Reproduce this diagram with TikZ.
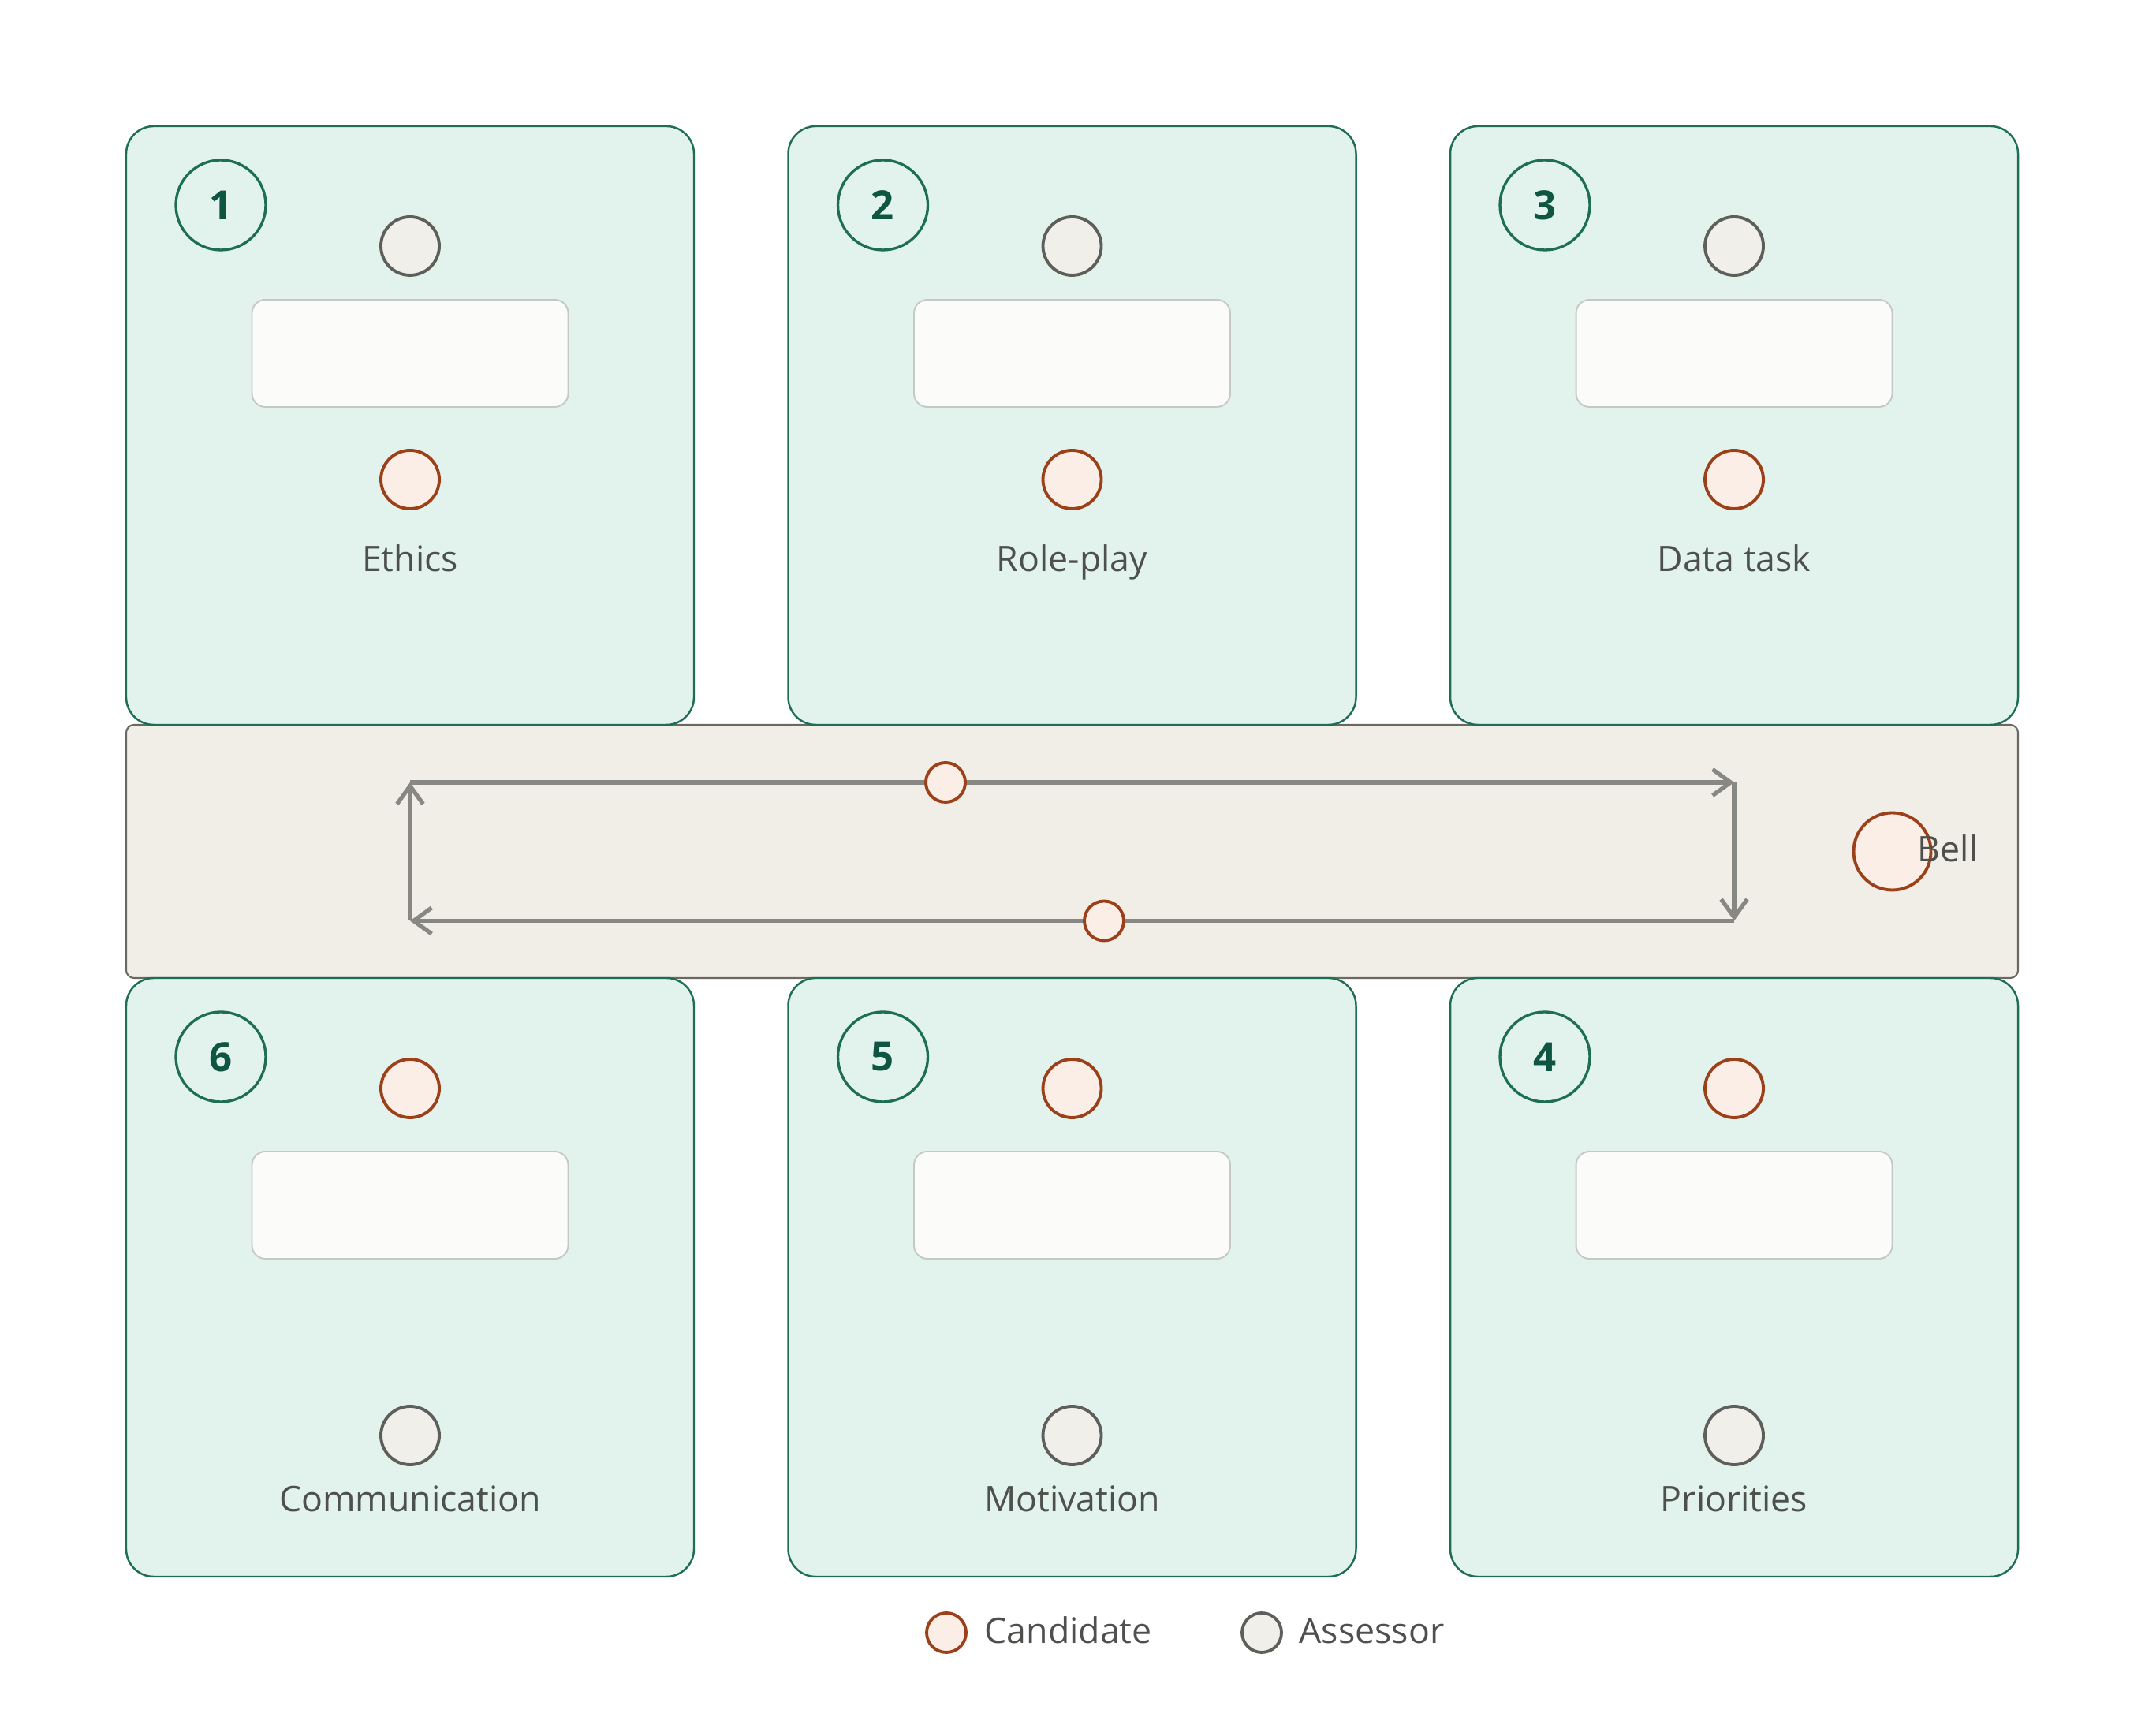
\documentclass[tikz,border=0pt]{standalone}
\usepackage{fontspec}
\setmainfont{Open Sans}
\usetikzlibrary{arrows.meta}

\definecolor{stationfill}{HTML}{E1F3EC}
\definecolor{stationline}{HTML}{1E6E55}
\definecolor{numtext}{HTML}{0E5542}
\definecolor{assessfill}{HTML}{F1EFE9}
\definecolor{assessline}{HTML}{5E5E5A}
\definecolor{candfill}{HTML}{FBEEE6}
\definecolor{candline}{HTML}{9B4019}
\definecolor{deskfill}{HTML}{FBFBF9}
\definecolor{deskline}{HTML}{C5C9C6}
\definecolor{hallfill}{HTML}{F1EEE8}
\definecolor{hallline}{HTML}{6B6863}
\definecolor{walkgrey}{HTML}{878783}
\definecolor{textgrey}{HTML}{4E504D}

\begin{document}
\begin{tikzpicture}[
  station/.style={draw=stationline, fill=stationfill, line width=0.7pt, rounded corners=0.35cm,
    minimum width=7.2cm, minimum height=7.59cm, inner sep=0pt},
  num/.style={circle, draw=stationline, line width=0.95pt, minimum size=1.14cm, inner sep=0pt,
    text=numtext, font=\fontsize{14.5}{16}\selectfont\bfseries},
  assess/.style={circle, draw=assessline, fill=assessfill, line width=1.1pt, minimum size=0.74cm, inner sep=0pt},
  cand/.style={circle, draw=candline, fill=candfill, line width=1.1pt, minimum size=0.74cm, inner sep=0pt},
  desk/.style={draw=deskline, fill=deskfill, line width=0.55pt, rounded corners=0.17cm,
    minimum width=4.01cm, minimum height=1.36cm, inner sep=0pt},
  lbl/.style={text=textgrey, font=\fontsize{12.7}{15}\selectfont, text height=0.76em, text depth=0pt},
  walk/.style={draw=walkgrey, line width=1.5pt, -{Straight Barb[length=6.5pt,width=9.4pt]}}
]
\fill[white] (0,0) rectangle (27.2,22);
\useasboundingbox (0,0) rectangle (27.2,22);

% hall in the middle
\node[draw=hallline, fill=hallfill, line width=0.6pt, rounded corners=0.1cm,
  minimum width=23.99cm, minimum height=3.21cm, inner sep=0pt] (hall) at (13.595,11.205) {};

% top row
\node[station] (st1) at (5.20,16.605) {};
\node[station] (st2) at (13.595,16.605) {};
\node[station] (st3) at (21.99,16.605) {};
\node[num] (num1) at (2.80,19.40) {1};
\node[num] (num2) at (11.195,19.40) {2};
\node[num] (num3) at (19.59,19.40) {3};
\node[assess] (as1) at (5.20,18.88) {};
\node[assess] (as2) at (13.595,18.88) {};
\node[assess] (as3) at (21.99,18.88) {};
\node[desk] (dk1) at (5.20,17.52) {};
\node[desk] (dk2) at (13.595,17.52) {};
\node[desk] (dk3) at (21.99,17.52) {};
\node[cand] (cd1) at (5.20,15.92) {};
\node[cand] (cd2) at (13.595,15.92) {};
\node[cand] (cd3) at (21.99,15.92) {};
\node[lbl] (lb1) at (5.20,14.89) {Ethics};
\node[lbl] (lb2) at (13.595,14.89) {Role-play};
\node[lbl] (lb3) at (21.99,14.89) {Data task};

% bottom row
\node[station] (st6) at (5.20,5.805) {};
\node[station] (st5) at (13.595,5.805) {};
\node[station] (st4) at (21.99,5.805) {};
\node[num] (num6) at (2.80,8.60) {6};
\node[num] (num5) at (11.195,8.60) {5};
\node[num] (num4) at (19.59,8.60) {4};
\node[cand] (cd6) at (5.20,8.20) {};
\node[cand] (cd5) at (13.595,8.20) {};
\node[cand] (cd4) at (21.99,8.20) {};
\node[desk] (dk6) at (5.20,6.72) {};
\node[desk] (dk5) at (13.595,6.72) {};
\node[desk] (dk4) at (21.99,6.72) {};
\node[assess] (as6) at (5.20,3.80) {};
\node[assess] (as5) at (13.595,3.80) {};
\node[assess] (as4) at (21.99,3.80) {};
\node[lbl] (lb6) at (5.20,2.97) {Communication};
\node[lbl] (lb5) at (13.595,2.97) {Motivation};
\node[lbl] (lb4) at (21.99,2.97) {Priorities};

% walking loop
\coordinate (tl) at (5.20,12.08);
\coordinate (tr) at (21.99,12.08);
\coordinate (br) at (21.99,10.325);
\coordinate (bl) at (5.20,10.325);
\draw[walk] (tl) -- (tr);
\draw[walk] (tr) -- (br);
\draw[walk] (br) -- (bl);
\draw[walk] (bl) -- (tl);
\node[cand, minimum size=0.5cm] (mv1) at (11.99,12.08) {};
\node[cand, minimum size=0.5cm] (mv2) at (14.00,10.325) {};

\node[cand, minimum size=0.98cm] (bell) at (23.995,11.205) {};
\node[lbl] (belltxt) at (24.70,11.21) {Bell};

% legend
\node[cand, minimum size=0.5cm] (lgc) at (12.00,1.30) {};
\node[lbl, anchor=west, inner sep=0pt] (lgctxt) at (12.48,1.30) {Candidate};
\node[assess, minimum size=0.5cm] (lga) at (16.00,1.30) {};
\node[lbl, anchor=west, inner sep=0pt] (lgatxt) at (16.47,1.30) {Assessor};
\end{tikzpicture}
\end{document}
